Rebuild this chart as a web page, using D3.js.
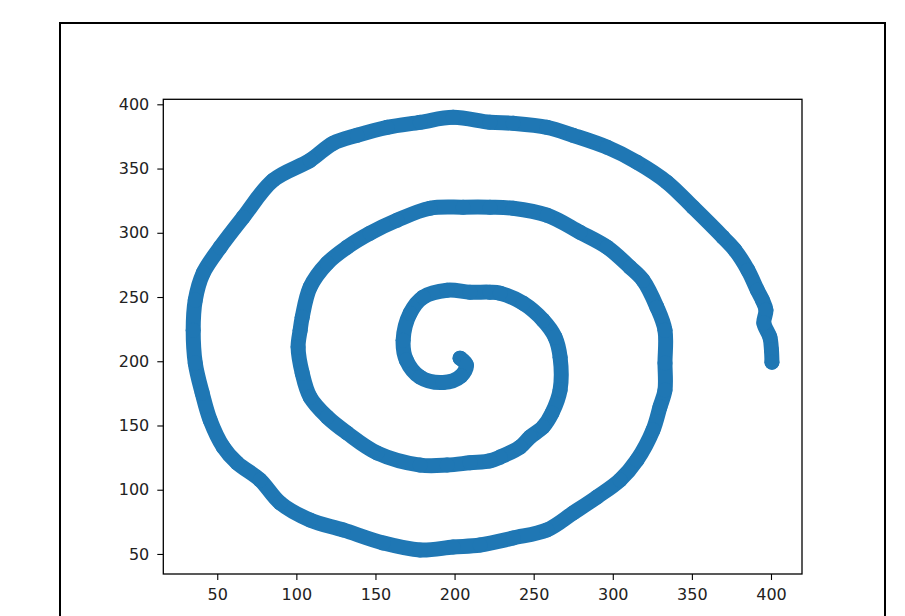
<!DOCTYPE html>
<html>
<head>
<meta charset="utf-8">
<script src="https://cdn.jsdelivr.net/npm/d3@7"></script>
<style>
  body { margin: 0; background: white; }
  svg { display: block; }
</style>
</head>
<body>
<svg id="chart"></svg>
<script>
// spiral points, from the centre outwards
var xValues = [203.5, 207.5, 204.0, 192.7, 178.2, 169.5, 167.5, 171.9, 180.1, 195.3,
    209.8, 222.4, 228.8, 243.3, 255.9, 263.5, 266.7, 266.7, 261.6, 255.9,
    247.7, 241.4, 228.8, 222.4, 209.8, 195.3, 178.2, 151.1, 132.1, 119.5,
    108.7, 103.7, 101.1, 102.4, 103.7, 108.7, 119.5, 132.1, 146.6, 163.7,
    184.5, 205.4, 222.4, 237.0, 258.4, 279.3, 296.4, 310.9, 319.1, 327.9,
    333.0, 333.0, 333.0, 329.8, 325.4, 315.3, 304.6, 290.0, 274.9, 258.4,
    237.0, 216.1, 199.1, 178.2, 154.8, 129.6, 108.7, 89.8, 77.1, 62.6,
    53.8, 45.5, 40.5, 36.1, 34.8, 36.1, 41.1, 51.9, 66.4, 85.3,
    108.7, 123.3, 138.4, 157.4, 178.2, 199.1, 222.4, 237.0, 258.4, 274.9,
    296.4, 315.3, 334.3, 350.7, 369.6, 377.3, 385.4, 391.4, 394.6, 396.8,
    395.5, 399.3, 400.3, 400.6]
var yValues = [202.4, 197.0, 188.5, 183.5, 187.7, 200.9, 216.4, 237.4, 249.9, 255.3,
    253.8, 253.8, 253.0, 245.2, 232.0, 218.8, 203.2, 177.6, 159.7, 148.8,
    141.0, 133.2, 125.4, 122.5, 121.0, 119.2, 119.2, 128.6, 144.1, 156.6,
    172.1, 190.8, 211.0, 224.2, 234.3, 257.7, 276.3, 288.8, 299.7, 309.8,
    319.1, 319.9, 319.9, 319.1, 313.7, 300.4, 288.8, 273.2, 263.1, 242.1,
    224.2, 198.6, 177.6, 164.3, 146.4, 123.1, 107.6, 94.3, 81.9, 68.7,
    62.4, 57.0, 55.4, 53.1, 58.6, 68.7, 76.4, 89.7, 107.6, 120.8,
    133.2, 154.2, 175.2, 198.6, 224.2, 247.6, 268.6, 288.8, 312.1, 340.9,
    356.4, 369.7, 375.9, 382.1, 386.0, 389.9, 386.0, 385.2, 382.1, 375.9,
    366.6, 354.9, 339.3, 319.9, 296.6, 286.4, 270.9, 255.3, 247.6, 239.8,
    229.7, 218.8, 208.7, 199.3]
var xTicks = [50, 100, 150, 200, 250, 300, 350, 400]
var yTicks = [50, 100, 150, 200, 250, 300, 350, 400]
var xLimits = [15.9, 419.6]
var yLimits = [34.4, 403.9]

var points = xValues.map((x, i) => ({x: x, y: yValues[i]}))

var dims = {
    width: 905,
    height: 616,
    margin: {top: 99.3, bottom: 42, left: 163.3, right: 103}
}
var markerColor = "#1f77b4"
var fontFamily = "'DejaVu Sans', sans-serif"

var svg = d3.select("#chart")
    .attr("width", dims.width)
    .attr("height", dims.height)

// figure frame
svg.append("rect")
    .attr("x", 60)
    .attr("y", 23)
    .attr("width", 825)
    .attr("height", 640)
    .attr("fill", "white")
    .attr("stroke", "black")
    .attr("stroke-width", 2)

var xScale = d3.scaleLinear()
    .domain(xLimits)
    .range([dims.margin.left, dims.width - dims.margin.right])
var yScale = d3.scaleLinear()
    .domain(yLimits)
    .range([dims.height - dims.margin.bottom, dims.margin.top])

// dense scatter: a thick stroke through the points plus the markers themselves
var line = d3.line()
    .x(d => xScale(d.x))
    .y(d => yScale(d.y))
    .curve(d3.curveCatmullRom)

svg.append("path")
    .datum(points)
    .attr("d", line)
    .attr("fill", "none")
    .attr("stroke", markerColor)
    .attr("stroke-width", 15)
    .attr("stroke-linejoin", "round")
    .attr("stroke-linecap", "round")

svg.append("g")
    .selectAll("circle")
    .data(points)
    .enter()
    .append("circle")
    .attr("cx", d => xScale(d.x))
    .attr("cy", d => yScale(d.y))
    .attr("r", 7.5)
    .attr("fill", markerColor)

// axes box
svg.append("rect")
    .attr("x", dims.margin.left)
    .attr("y", dims.margin.top)
    .attr("width", dims.width - dims.margin.right - dims.margin.left)
    .attr("height", dims.height - dims.margin.bottom - dims.margin.top)
    .attr("fill", "none")
    .attr("stroke", "black")
    .attr("stroke-width", 1.3)

var xAxis = svg.append("g")
    .attr("transform", `translate(0, ${dims.height - dims.margin.bottom})`)
    .call(d3.axisBottom(xScale).tickValues(xTicks).tickSize(6).tickPadding(9).tickSizeOuter(0))
var yAxis = svg.append("g")
    .attr("transform", `translate(${dims.margin.left}, 0)`)
    .call(d3.axisLeft(yScale).tickValues(yTicks).tickSize(6).tickPadding(8).tickSizeOuter(0))

svg.selectAll(".domain").remove()
svg.selectAll(".tick line")
    .attr("stroke", "black")
    .attr("stroke-width", 1.1)
svg.selectAll(".tick text")
    .attr("fill", "#222")
    .style("font-family", fontFamily)
    .style("font-size", "16px")
</script>
</body>
</html>
